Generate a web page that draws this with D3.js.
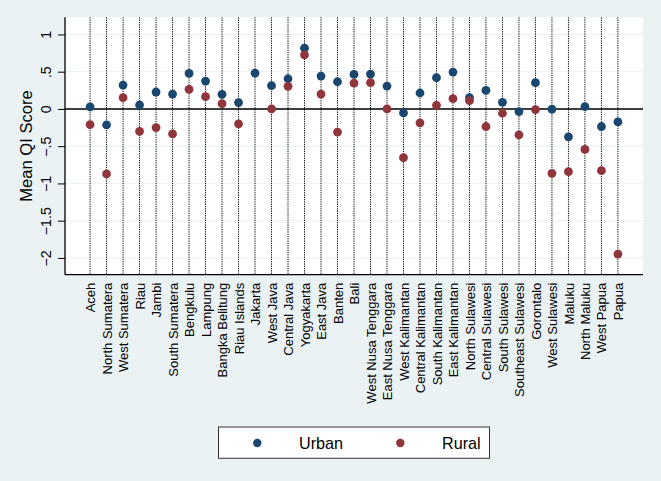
<!DOCTYPE html>
<html>
<head>
<meta charset="utf-8">
<script src="https://cdn.jsdelivr.net/npm/d3@7/dist/d3.min.js"></script>
<style>
html,body{margin:0;padding:0;background:#eaf2f3;}
svg{display:block;font-family:"Liberation Sans",Arial,sans-serif;}
</style>
</head>
<body>
<svg id="chart" width="661" height="481"></svg>
<script>
const provinces = ["Aceh","North Sumatera","West Sumatera","Riau","Jambi","South Sumatera","Bengkulu","Lampung","Bangka Belitung","Riau Islands","Jakarta","West Java","Central Java","Yogyakarta","East Java","Banten","Bali","West Nusa Tenggara","East Nusa Tenggara","West Kalimantan","Central Kalimantan","South Kalimantan","East Kalimantan","North Sulawesi","Central Sulawesi","South Sulawesi","Southeast Sulawesi","Gorontalo","West Sulawesi","Maluku","North Maluku","West Papua","Papua"];
const urban = [0.027,-0.214,0.32,0.053,0.227,0.20,0.477,0.374,0.196,0.085,0.481,0.312,0.405,0.815,0.441,0.365,0.463,0.468,0.307,-0.053,0.214,0.419,0.495,0.151,0.25,0.089,-0.036,0.352,-0.004,-0.374,0.031,-0.236,-0.174];
const rural = [-0.21,-0.873,0.151,-0.30,-0.25,-0.334,0.263,0.165,0.071,-0.20,null,0.0,0.303,0.726,0.20,-0.312,0.347,0.352,0.0,-0.655,-0.187,0.049,0.138,0.111,-0.236,-0.058,-0.348,-0.009,-0.864,-0.842,-0.544,-0.829,-1.948];
const yTicks = [1,0.5,0,-0.5,-1,-1.5,-2];
const yTickLabels = ["1",".5","0","\u2212.5","\u22121","\u22121.5","\u22122"];
const seriesNames = ["Urban","Rural"];
const seriesColors = ["#1a476f","#90353b"];

(function(){
const svg = d3.select("#chart");
const pL = 65, pR = 643, pT = 17.3, pB = 274.7;

const x = d3.scalePoint().domain(provinces).range([pL, pR]).padding(1.52);
const y = d3.scaleLinear().domain([-2.225, 1.23]).range([pB, pT]);

svg.append("rect").attr("x", pL).attr("y", pT).attr("width", pR-pL).attr("height", pB-pT).attr("fill", "#ffffff");

svg.append("g").selectAll("line").data(yTicks).join("line")
  .attr("x1", pL).attr("x2", pR)
  .attr("y1", d => y(d)).attr("y2", d => y(d))
  .attr("stroke", "#eaf2f3").attr("stroke-width", 1);

svg.append("g").selectAll("line").data(provinces).join("line")
  .attr("x1", d => x(d)).attr("x2", d => x(d))
  .attr("y1", pT).attr("y2", pB)
  .attr("stroke", "#111").attr("stroke-width", 1).attr("stroke-dasharray", "1.3,1");

svg.append("line").attr("x1", pL).attr("x2", pR).attr("y1", y(0)).attr("y2", y(0))
  .attr("stroke", "#000").attr("stroke-width", 1.5);

const yAxis = d3.axisLeft(y).tickValues(yTicks).tickSize(7).tickPadding(4)
  .tickFormat((d,i) => yTickLabels[i]);
const gy = svg.append("g").attr("transform", `translate(${pL},0)`).call(yAxis);
gy.select(".domain").attr("d", `M0,${pT}V${pB}`).attr("stroke", "#000").attr("stroke-width", 1.3);
gy.selectAll(".tick line").attr("stroke", "#000");
gy.selectAll(".tick text")
  .attr("font-size", 14.2).attr("fill", "#000")
  .attr("transform", "rotate(-90)")
  .attr("x", 0).attr("y", -14)
  .attr("text-anchor", "middle").attr("dy", "0");

const xAxis = d3.axisBottom(x).tickSize(0).tickPadding(0);
const gx = svg.append("g").attr("transform", `translate(0,${pB})`).call(xAxis);
gx.select(".domain").attr("d", `M${pL},0H${pR}`).attr("stroke", "#000").attr("stroke-width", 1.3);
gx.selectAll(".tick text")
  .attr("font-size", 13).attr("fill", "#000")
  .attr("transform", "rotate(-90)")
  .attr("x", -8).attr("y", 0).attr("dy", "0.35em")
  .attr("text-anchor", "end");

svg.append("text").attr("transform", `translate(32,${(pT+pB)/2}) rotate(-90)`)
  .attr("text-anchor", "middle").attr("font-size", 16.6).attr("fill", "#000").text("Mean QI Score");

[urban, rural].forEach((vals, si) => {
  svg.append("g").selectAll("circle")
    .data(provinces.map((p,i) => ({p, v: vals[i]})).filter(d => d.v !== null))
    .join("circle")
    .attr("cx", d => x(d.p)).attr("cy", d => y(d.v)).attr("r", 4.4)
    .attr("fill", seriesColors[si]);
});

const lg = svg.append("g");
lg.append("rect").attr("x", 218.5).attr("y", 427).attr("width", 271).attr("height", 31.3)
  .attr("fill", "#fff").attr("stroke", "#333").attr("stroke-width", 1);
const legendPos = [{mx: 257.3, tx: 299}, {mx: 400.3, tx: 442}];
seriesNames.forEach((n, i) => {
  lg.append("circle").attr("cx", legendPos[i].mx).attr("cy", 443).attr("r", 4.2).attr("fill", seriesColors[i]);
  lg.append("text").attr("x", legendPos[i].tx).attr("y", 443).attr("dy", "0.35em")
    .attr("font-size", 16.2).attr("fill", "#000").text(n);
});
})();
</script>
</body>
</html>
